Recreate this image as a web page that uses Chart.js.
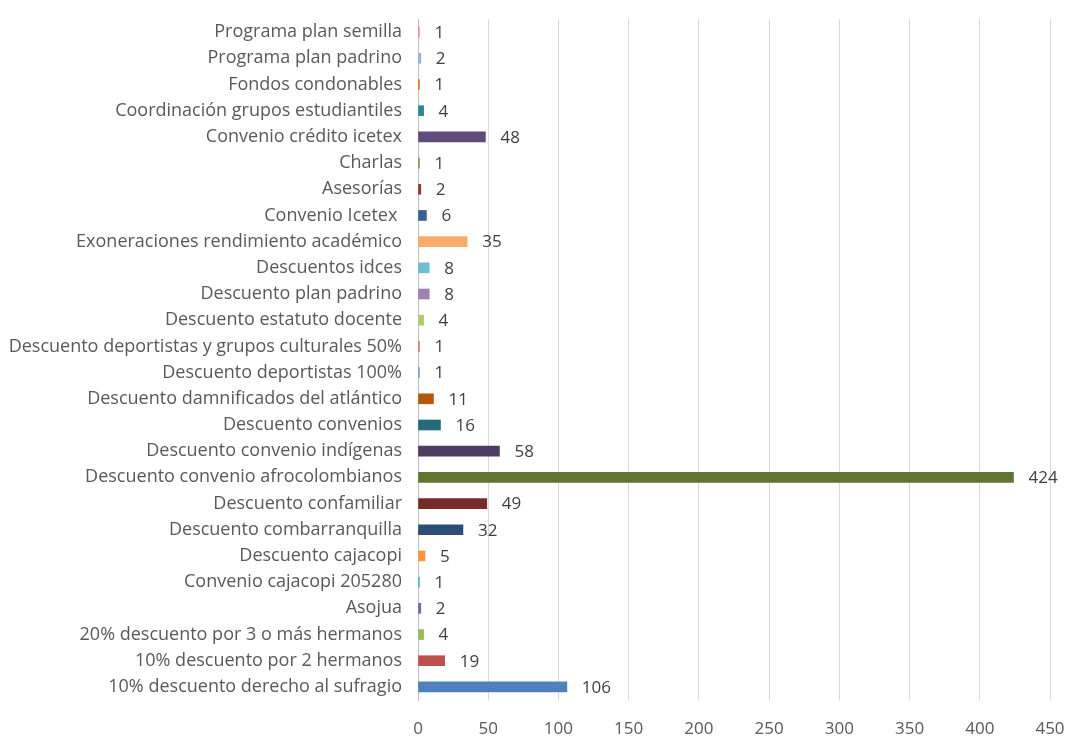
<!DOCTYPE html>
<html>
<head>
<meta charset="utf-8">
<script src="https://cdn.jsdelivr.net/npm/chart.js@4.4.1/dist/chart.umd.min.js"></script>
<style>
html,body{margin:0;padding:0;background:#fff;}
#wrap{width:1085px;height:740px;position:relative;}
</style>
</head>
<body>
<div id="wrap"><canvas id="c" width="1085" height="740"></canvas></div>
<script>
const categories = [
  "Programa plan semilla",
  "Programa plan padrino",
  "Fondos condonables",
  "Coordinación grupos estudiantiles",
  "Convenio crédito icetex",
  "Charlas",
  "Asesorías",
  "Convenio Icetex ",
  "Exoneraciones rendimiento académico",
  "Descuentos idces",
  "Descuento plan padrino",
  "Descuento estatuto docente",
  "Descuento deportistas y grupos culturales 50%",
  "Descuento deportistas 100%",
  "Descuento damnificados del atlántico",
  "Descuento convenios",
  "Descuento convenio indígenas",
  "Descuento convenio afrocolombianos",
  "Descuento confamiliar",
  "Descuento combarranquilla",
  "Descuento cajacopi",
  "Convenio cajacopi 205280",
  "Asojua",
  "20% descuento por 3 o más hermanos",
  "10% descuento por 2 hermanos",
  "10% descuento derecho al sufragio"
];
const values = [1, 2, 1, 4, 48, 1, 2, 6, 35, 8, 8, 4, 1, 1, 11, 16, 58, 424, 49, 32, 5, 1, 2, 4, 19, 106];
const barColors = [
  "#D99694", "#95B3D7", "#E46C0A", "#31859C", "#604A7B", "#77933C", "#953735", "#366092",
  "#F9AB6B", "#6FBDD1", "#9983B5", "#AFC97A", "#CD7371", "#729ACA", "#B65708", "#276A7C",
  "#4D3B62", "#5F7530", "#772C2A", "#2C4D75", "#F79646", "#4BACC6", "#8064A2", "#9BBB59",
  "#C0504D", "#4F81BD"
];
const xTicks = [0, 50, 100, 150, 200, 250, 300, 350, 400, 450];

const FONT = "'Open Sans', 'Liberation Sans', sans-serif";

const valueLabels = {
  id: 'valueLabels',
  afterDatasetsDraw(chart) {
    const ctx = chart.ctx;
    const meta = chart.getDatasetMeta(0);
    ctx.save();
    ctx.font = "17px " + FONT;
    ctx.fillStyle = "#404040";
    ctx.textBaseline = "middle";
    ctx.textAlign = "left";
    meta.data.forEach((el, i) => {
      ctx.fillText(String(values[i]), el.x + 15, el.y + 1);
    });
    ctx.restore();
  }
};

new Chart(document.getElementById('c'), {
  type: 'bar',
  data: {
    labels: categories,
    datasets: [{
      data: values,
      backgroundColor: barColors,
      borderWidth: 0,
      barThickness: 10
    }]
  },
  options: {
    indexAxis: 'y',
    responsive: false,
    animation: false,
    layout: { padding: { top: 19, right: 35, left: 0, bottom: 0 } },
    plugins: { legend: { display: false }, tooltip: { enabled: false } },
    scales: {
      x: {
        min: 0, max: 450,
        afterBuildTicks(scale) { scale.ticks = xTicks.map(v => ({ value: v })); },
        afterFit(scale) { scale.height = 40; },
        grid: { color: "#d9d9d9", drawTicks: false, lineWidth: 1 },
        border: { display: false },
        ticks: { color: "#595959", font: { family: FONT, size: 17 }, padding: 19 }
      },
      y: {
        afterFit(scale) { scale.width = 418; scale.paddingTop = 0; scale.paddingBottom = 0; },
        grid: { display: false, drawTicks: false },
        border: { display: true, color: "#bfbfbf", width: 1 },
        ticks: { color: "#595959", font: { family: FONT, size: 18 }, padding: 16, autoSkip: false }
      }
    }
  },
  plugins: [valueLabels]
});
</script>
</body>
</html>
